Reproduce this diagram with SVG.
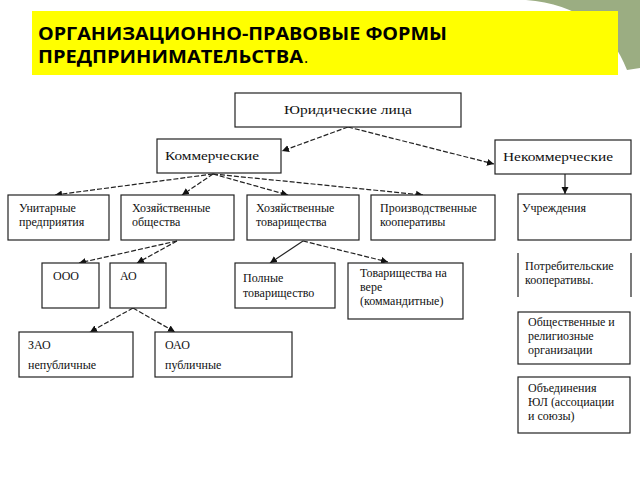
<svg xmlns="http://www.w3.org/2000/svg" width="640" height="480" viewBox="0 0 640 480">
<style>
.box{fill:#fff;stroke:#222;stroke-width:1.2}
.t{font-family:"Liberation Serif","Times New Roman",serif;font-size:12px;fill:#111}
.c{stroke:#222;stroke-width:1.2;fill:none;stroke-dasharray:5,2;marker-end:url(#ah)}
.s{stroke:#222;stroke-width:1.2;fill:none;marker-end:url(#ah)}
.title{font-family:"Open Sans","DejaVu Sans",sans-serif;font-weight:bold;font-size:17px;fill:#000}
</style>
<defs>
<marker id="ah" markerUnits="userSpaceOnUse" markerWidth="8" markerHeight="8" refX="7" refY="4" orient="auto">
<path d="M0,0.5 L7,4 L0,7.5 Z" fill="#111"/>
</marker>
</defs>
<rect width="640" height="480" fill="#fff"/>
<path d="M526,0 C578,4 612,30 627,70 L640,68 L640,0 Z" fill="#9bad82"/>
<g id="title">
<rect x="32" y="11" width="586" height="64" fill="#ffff00"/>
<text class="title" x="38" y="40" textLength="409" lengthAdjust="spacingAndGlyphs">ОРГАНИЗАЦИОННО-ПРАВОВЫЕ ФОРМЫ</text>
<text class="title" x="38" y="63" textLength="265" lengthAdjust="spacingAndGlyphs">ПРЕДПРИНИМАТЕЛЬСТВА</text>
<text x="304" y="63" font-family="Open Sans,sans-serif" font-size="16" fill="#000">.</text>
</g>
<g id="connectors">
<line class="c" x1="348" y1="127" x2="282" y2="151"/>
<line class="c" x1="348" y1="127" x2="494" y2="164"/>
<line class="c" x1="213" y1="174" x2="55" y2="195"/>
<line class="c" x1="213" y1="174" x2="182" y2="195"/>
<line class="c" x1="213" y1="174" x2="288" y2="195"/>
<line class="c" x1="213" y1="174" x2="423" y2="195"/>
<line class="s" x1="565" y1="174" x2="565" y2="194"/>
<line class="c" x1="177" y1="241" x2="79" y2="263"/>
<line class="c" x1="177" y1="241" x2="137" y2="263"/>
<line class="s" x1="303" y1="241" x2="270" y2="263"/>
<line class="c" x1="303" y1="241" x2="388" y2="262"/>
<line class="c" x1="133" y1="308" x2="90" y2="332"/>
<line class="c" x1="133" y1="308" x2="175" y2="332"/>
</g>
<g id="n-legal"><rect class="box" x="235" y="93" width="226" height="34"/><text class="t" x="348" y="114" text-anchor="middle" textLength="128" lengthAdjust="spacingAndGlyphs">Юридические лица</text></g>
<g id="n-comm"><rect class="box" x="157" y="139" width="124" height="34"/><text class="t" x="165" y="160" textLength="94" lengthAdjust="spacingAndGlyphs">Коммерческие</text></g>
<g id="n-noncomm"><rect class="box" x="495" y="140" width="136" height="34"/><text class="t" x="503" y="161" textLength="110" lengthAdjust="spacingAndGlyphs">Некоммерческие</text></g>
<g id="n-unit"><rect class="box" x="8" y="195" width="101" height="45"/><text class="t" x="19" y="212">Унитарные</text><text class="t" x="19" y="226">предприятия</text></g>
<g id="n-hozob"><rect class="box" x="121" y="195" width="113" height="45"/><text class="t" x="132" y="212">Хозяйственные</text><text class="t" x="132" y="226">общества</text></g>
<g id="n-hoztov"><rect class="box" x="247" y="195" width="112" height="45"/><text class="t" x="256" y="212">Хозяйственные</text><text class="t" x="256" y="226">товарищества</text></g>
<g id="n-proizv"><rect class="box" x="371" y="195" width="124" height="45"/><text class="t" x="380" y="212">Производственные</text><text class="t" x="380" y="226">кооперативы</text></g>
<g id="n-uchr"><rect class="box" x="518" y="194" width="113" height="46"/><text class="t" x="522" y="212">Учреждения</text></g>
<g id="n-ooo"><rect class="box" x="42" y="263" width="57" height="45"/><text class="t" x="53" y="280">ООО</text></g>
<g id="n-ao"><rect class="box" x="110" y="263" width="56" height="45"/><text class="t" x="120" y="280">АО</text></g>
<g id="n-poln"><rect class="box" x="235" y="263" width="100" height="45"/><text class="t" x="243" y="282">Полные</text><text class="t" x="243" y="297">товарищество</text></g>
<g id="n-vera"><rect class="box" x="348" y="263" width="115" height="56"/><text class="t" x="360" y="277">Товарищества на</text><text class="t" x="360" y="291">вере</text><text class="t" x="360" y="305">(коммандитные)</text></g>
<g id="n-potreb"><line x1="518" y1="253" x2="518" y2="297" stroke="#222" stroke-width="1.2"/><line x1="631" y1="253" x2="631" y2="297" stroke="#222" stroke-width="1.2"/><text class="t" x="525" y="270">Потребительские</text><text class="t" x="525" y="284">кооперативы.</text></g>
<g id="n-zao"><rect class="box" x="19" y="332" width="114" height="45"/><text class="t" x="28" y="349">ЗАО</text><text class="t" x="28" y="369">непубличные</text></g>
<g id="n-oao"><rect class="box" x="155" y="332" width="137" height="45"/><text class="t" x="165" y="349">ОАО</text><text class="t" x="165" y="369">публичные</text></g>
<g id="n-obsch"><rect class="box" x="518" y="312" width="112" height="52"/><text class="t" x="528" y="326">Общественные и</text><text class="t" x="528" y="340">религиозные</text><text class="t" x="528" y="354">организации</text></g>
<g id="n-obed"><rect class="box" x="518" y="377" width="112" height="56"/><text class="t" x="528" y="392">Объединения</text><text class="t" x="528" y="406">ЮЛ (ассоциации</text><text class="t" x="528" y="420">и союзы)</text></g>
</svg>
